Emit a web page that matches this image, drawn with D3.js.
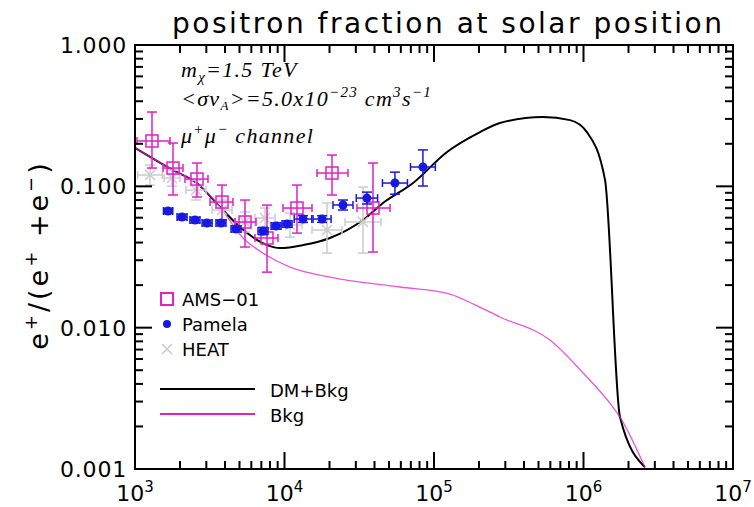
<!DOCTYPE html>
<meta charset="utf-8">
<style>
    body { margin: 0; background: white; }
    text { font-family: "DejaVu Sans", sans-serif; }
    .note { font-family: "Liberation Serif", serif; font-style: italic; font-size: 22px; letter-spacing: 1.3px; }
</style>
<script src="https://d3js.org/d3.v7.min.js"></script>
<body>
<script>

    // --- data (energy in MeV, positron fraction) ---
    var xMajor = [1e3, 1e4, 1e5, 1e6, 1e7]
    var xExp = ["3", "4", "5", "6", "7"]
    var yMajor = [0.001, 0.01, 0.1, 1]
    var yLabels = ["0.001", "0.010", "0.100", "1.000"]

    // DM+Bkg curve
    var dmE = [1000, 1795, 2600, 3707, 5035, 7638, 9333, 13300, 20140, 33500, 45600, 72440, 122200, 203200, 276100, 535800, 812800, 1054000, 1393000, 1754000, 2576000]
    var dmF = [0.187, 0.130, 0.105, 0.0714, 0.0515, 0.0384, 0.0366, 0.0384, 0.0431, 0.0578, 0.0762, 0.1055, 0.175, 0.242, 0.281, 0.309, 0.294, 0.242, 0.111, 0.00233, 0.00103]

    // Bkg curve
    var bkgE = [1000, 1795, 2600, 3707, 5272, 7178, 10890, 20140, 59290, 127900, 188000, 276100, 597000, 993000, 1503000, 1754000, 2576000]
    var bkgF = [0.187, 0.130, 0.105, 0.0714, 0.0431, 0.0337, 0.0268, 0.0228, 0.0194, 0.0173, 0.0145, 0.0119, 0.00817, 0.00478, 0.00292, 0.00233, 0.00103]

    // AMS-01: E, Elo, Ehi, f, flo, fhi
    var amsE = [1299, 1796, 2598, 3819, 5443, 7638, 12120, 20780, 39080]
    var amsElo = [1031, 1539, 2160, 3176, 4667, 6348, 9772, 16500, 30540]
    var amsEhi = [1714, 2095, 3078, 4523, 6448, 9047, 15276, 26590, 50790]
    var amsF = [0.2093, 0.1347, 0.1126, 0.0774, 0.0559, 0.0431, 0.0702, 0.1242, 0.0702]
    var amsFlo = [0.1347, 0.0868, 0.0840, 0.0577, 0.0372, 0.0247, 0.0467, 0.0868, 0.0343]
    var amsFhi = [0.3356, 0.2025, 0.1462, 0.1021, 0.0800, 0.0737, 0.1021, 0.1665, 0.1462]

    // Pamela
    var pamE = [1663, 2063, 2518, 3033, 3758, 4740, 7183, 8775, 10400, 13300, 17830, 24620, 35600, 54800, 84300]
    var pamElo = [1550, 1910, 2330, 2810, 3480, 4390, 6650, 8130, 9630, 11620, 15520, 21100, 30200, 45200, 69600]
    var pamEhi = [1790, 2230, 2720, 3280, 4060, 5120, 7760, 9470, 11230, 15220, 20490, 28720, 41950, 66400, 102100]
    var pamF = [0.0669, 0.0607, 0.0578, 0.0550, 0.0550, 0.0499, 0.0483, 0.0524, 0.0541, 0.0587, 0.0587, 0.0738, 0.0826, 0.1055, 0.137]
    var pamFlo = [0.064, 0.058, 0.055, 0.0525, 0.0525, 0.0475, 0.0455, 0.0497, 0.0513, 0.0556, 0.0556, 0.068, 0.075, 0.088, 0.1005]
    var pamFhi = [0.070, 0.0635, 0.0605, 0.0577, 0.0577, 0.0525, 0.0512, 0.0552, 0.0570, 0.062, 0.062, 0.080, 0.091, 0.126, 0.181]

    // HEAT
    var heatE = [1260, 1768, 2559, 3819, 5443, 7407, 10884, 19250, 33510]
    var heatElo = [1042, 1564, 2193, 3273, 4665, 6348, 9033, 15280, 25410]
    var heatEhi = [1522, 1999, 2986, 4456, 6351, 8642, 13114, 24250, 44200]
    var heatF = [0.1202, 0.1145, 0.0941, 0.0680, 0.0559, 0.0597, 0.0532, 0.0491, 0.0559]
    var heatFlo = [0.1021, 0.1004, 0.0800, 0.0578, 0.0475, 0.0507, 0.0437, 0.0337, 0.0337]
    var heatFhi = [0.1415, 0.1305, 0.1107, 0.0800, 0.0658, 0.0702, 0.0648, 0.0762, 0.0989]

    var magenta = "#e020c8"
    var blue = "#1818e0"
    var grey = "#cccccc"

    var pLeft = 135, pRight = 733, pTop = 45, pBottom = 469

    var svg = d3.select("body").append("svg").attr("width", 754).attr("height", 507)
    var x = d3.scaleLog().domain([1e3, 1e7]).range([pLeft, pRight])
    var y = d3.scaleLog().domain([0.001, 1]).range([pBottom, pTop])

    // title
    svg.append("text")
        .text("positron fraction at solar position")
        .attr("x", 447)
        .attr("y", 33)
        .attr("text-anchor", "middle")
        .attr("font-size", "28px")
        .attr("textLength", 550)
        .attr("lengthAdjust", "spacing")

    // tick labels
    svg.append("g").selectAll("text")
        .data(yMajor)
        .enter()
        .append("text")
        .text(function (d, i) { return yLabels[i] })
        .attr("x", 127)
        .attr("y", function (d) { return y(d) + 8 })
        .attr("text-anchor", "end")
        .attr("font-size", "22px")
        .attr("letter-spacing", "0.8px")

    var xl = svg.append("g").selectAll("text")
        .data(xMajor)
        .enter()
        .append("text")
        .attr("x", function (d) { return x(d) })
        .attr("y", 501)
        .attr("text-anchor", "middle")
        .attr("font-size", "22px")
    xl.append("tspan").text("10")
    xl.append("tspan").text(function (d, i) { return xExp[i] })
        .attr("font-size", "15px").attr("dy", -9)

    // y label
    var yl = svg.append("text")
        .attr("transform", "translate(48,255) rotate(-90)")
        .attr("text-anchor", "middle")
        .attr("font-size", "27px")
        .attr("letter-spacing", "3px")
    yl.append("tspan").text("e")
    yl.append("tspan").text("+").attr("font-size", "18px").attr("dy", -11)
    yl.append("tspan").text("/(e").attr("dy", 11)
    yl.append("tspan").text("+").attr("font-size", "18px").attr("dy", -11)
    yl.append("tspan").text(" +e").attr("dy", 11)
    yl.append("tspan").text("\u2212").attr("font-size", "18px").attr("dy", -11)
    yl.append("tspan").text(")").attr("dy", 11)

    // --- curves ---
    var lineGen = d3.line()
        .x(function (d) { return x(d[0]) })
        .y(function (d) { return y(d[1]) })
        .curve(d3.curveMonotoneX)

    svg.append("path")
        .datum(d3.zip(dmE, dmF))
        .attr("d", lineGen)
        .attr("fill", "none")
        .attr("stroke", "black")
        .attr("stroke-width", 2)

    svg.append("path")
        .datum(d3.zip(bkgE, bkgF))
        .attr("d", lineGen)
        .attr("fill", "none")
        .attr("stroke", magenta)
        .attr("stroke-opacity", 0.75)
        .attr("stroke-width", 1.3)

    // --- data points with error bars ---
    function errorBars(E, Elo, Ehi, F, Flo, Fhi, color, w) {
        var g = svg.append("g").attr("stroke", color).attr("stroke-width", w).attr("fill", "none")
        d3.range(E.length).forEach(function (i) {
            var cx = x(E[i]), cy = y(F[i])
            var x0 = x(Elo[i]), x1 = x(Ehi[i]), y0 = y(Flo[i]), y1 = y(Fhi[i])
            g.append("line").attr("x1", x0).attr("x2", x1).attr("y1", cy).attr("y2", cy)
            g.append("line").attr("x1", x0).attr("x2", x0).attr("y1", cy - 4).attr("y2", cy + 4)
            g.append("line").attr("x1", x1).attr("x2", x1).attr("y1", cy - 4).attr("y2", cy + 4)
            g.append("line").attr("x1", cx).attr("x2", cx).attr("y1", y0).attr("y2", y1)
            g.append("line").attr("x1", cx - 5).attr("x2", cx + 5).attr("y1", y0).attr("y2", y0)
            g.append("line").attr("x1", cx - 5).attr("x2", cx + 5).attr("y1", y1).attr("y2", y1)
        })
    }

    errorBars(heatE, heatElo, heatEhi, heatF, heatFlo, heatFhi, grey, 1.5)
    svg.append("g").selectAll("path")
        .data(d3.zip(heatE, heatF))
        .enter()
        .append("path")
        .attr("d", function (d) {
            var cx = x(d[0]), cy = y(d[1])
            return "M" + (cx - 5) + "," + (cy - 5) + "L" + (cx + 5) + "," + (cy + 5) +
                "M" + (cx - 5) + "," + (cy + 5) + "L" + (cx + 5) + "," + (cy - 5)
        })
        .attr("stroke", grey).attr("stroke-width", 1.5)

    errorBars(amsE, amsElo, amsEhi, amsF, amsFlo, amsFhi, magenta, 1.5)
    svg.append("g").selectAll("rect")
        .data(d3.zip(amsE, amsF))
        .enter()
        .append("rect")
        .attr("x", function (d) { return x(d[0]) - 6 })
        .attr("y", function (d) { return y(d[1]) - 6 })
        .attr("width", 12).attr("height", 12)
        .attr("fill", "none").attr("stroke", magenta).attr("stroke-width", 1.5)

    errorBars(pamE, pamElo, pamEhi, pamF, pamFlo, pamFhi, blue, 1.5)
    svg.append("g").selectAll("circle")
        .data(d3.zip(pamE, pamF))
        .enter()
        .append("circle")
        .attr("cx", function (d) { return x(d[0]) })
        .attr("cy", function (d) { return y(d[1]) })
        .attr("r", 4.5)
        .attr("fill", blue)

    // --- annotations ---
    var n1 = svg.append("text").attr("class", "note").attr("x", 181).attr("y", 77)
    n1.append("tspan").text("m")
    n1.append("tspan").text("\u03c7").attr("font-size", "15px").attr("dy", 5)
    n1.append("tspan").text("=1.5  TeV").attr("dy", -5)

    var n2 = svg.append("text").attr("class", "note").attr("x", 181).attr("y", 106)
    n2.append("tspan").text("<\u03c3v")
    n2.append("tspan").text("A").attr("font-size", "13px").attr("dy", 4)
    n2.append("tspan").text(">=5.0x10").attr("dy", -4)
    n2.append("tspan").text("\u221223").attr("font-size", "15px").attr("dy", -9)
    n2.append("tspan").text("  cm").attr("dy", 9)
    n2.append("tspan").text("3").attr("font-size", "15px").attr("dy", -9)
    n2.append("tspan").text("s").attr("dy", 9)
    n2.append("tspan").text("\u22121").attr("font-size", "15px").attr("dy", -9)

    var n3 = svg.append("text").attr("class", "note").attr("x", 181).attr("y", 143)
    n3.append("tspan").text("\u03bc")
    n3.append("tspan").text("+").attr("font-size", "15px").attr("dy", -9)
    n3.append("tspan").text("\u03bc").attr("dy", 9)
    n3.append("tspan").text("\u2212").attr("font-size", "15px").attr("dy", -9)
    n3.append("tspan").text("  channel").attr("dy", 9)

    // --- legend ---
    svg.append("rect")
        .attr("x", 161).attr("y", 293).attr("width", 12).attr("height", 12)
        .attr("fill", "none").attr("stroke", magenta).attr("stroke-width", 2)
    svg.append("text").text("AMS\u221201")
        .attr("x", 182).attr("y", 306).attr("font-size", "18px")

    svg.append("circle")
        .attr("cx", 167).attr("cy", 324).attr("r", 4).attr("fill", blue)
    svg.append("text").text("Pamela")
        .attr("x", 182).attr("y", 331).attr("font-size", "18px")

    svg.append("path")
        .attr("d", "M162,344L172,354M162,354L172,344")
        .attr("stroke", grey).attr("stroke-width", 1.5)
    svg.append("text").text("HEAT")
        .attr("x", 182).attr("y", 356).attr("font-size", "18px")

    svg.append("line")
        .attr("x1", 160).attr("x2", 255).attr("y1", 389).attr("y2", 389)
        .attr("stroke", "black").attr("stroke-width", 2)
    svg.append("text").text("DM+Bkg")
        .attr("x", 270).attr("y", 397).attr("font-size", "18px")

    svg.append("line")
        .attr("x1", 160).attr("x2", 255).attr("y1", 414).attr("y2", 414)
        .attr("stroke", magenta).attr("stroke-width", 2)
    svg.append("text").text("Bkg")
        .attr("x", 270).attr("y", 422).attr("font-size", "18px")

    // --- frame ---
    svg.append("rect")
        .attr("x", pLeft).attr("y", pTop)
        .attr("width", pRight - pLeft).attr("height", pBottom - pTop)
        .attr("fill", "none").attr("stroke", "black").attr("stroke-width", 2)

    // --- inward ticks on all four sides as thin filled bars (majors = decades) ---
    function tickLen(d) {
        var m = d / Math.pow(10, Math.round(Math.log10(d)))
        return Math.abs(m - 1) < 1e-6 ? 17 : 8
    }
    var tg = svg.append("g").attr("fill", "black")
    x.ticks().forEach(function (d) {
        var t = tickLen(d)
        tg.append("rect").attr("x", x(d) - 1).attr("y", pBottom - t).attr("width", 2).attr("height", t)
        tg.append("rect").attr("x", x(d) - 1).attr("y", pTop).attr("width", 2).attr("height", t)
    })
    y.ticks().forEach(function (d) {
        var t = tickLen(d)
        tg.append("rect").attr("x", pLeft).attr("y", y(d) - 1).attr("width", t).attr("height", 2)
        tg.append("rect").attr("x", pRight - t).attr("y", y(d) - 1).attr("width", t).attr("height", 2)
    })

</script>
